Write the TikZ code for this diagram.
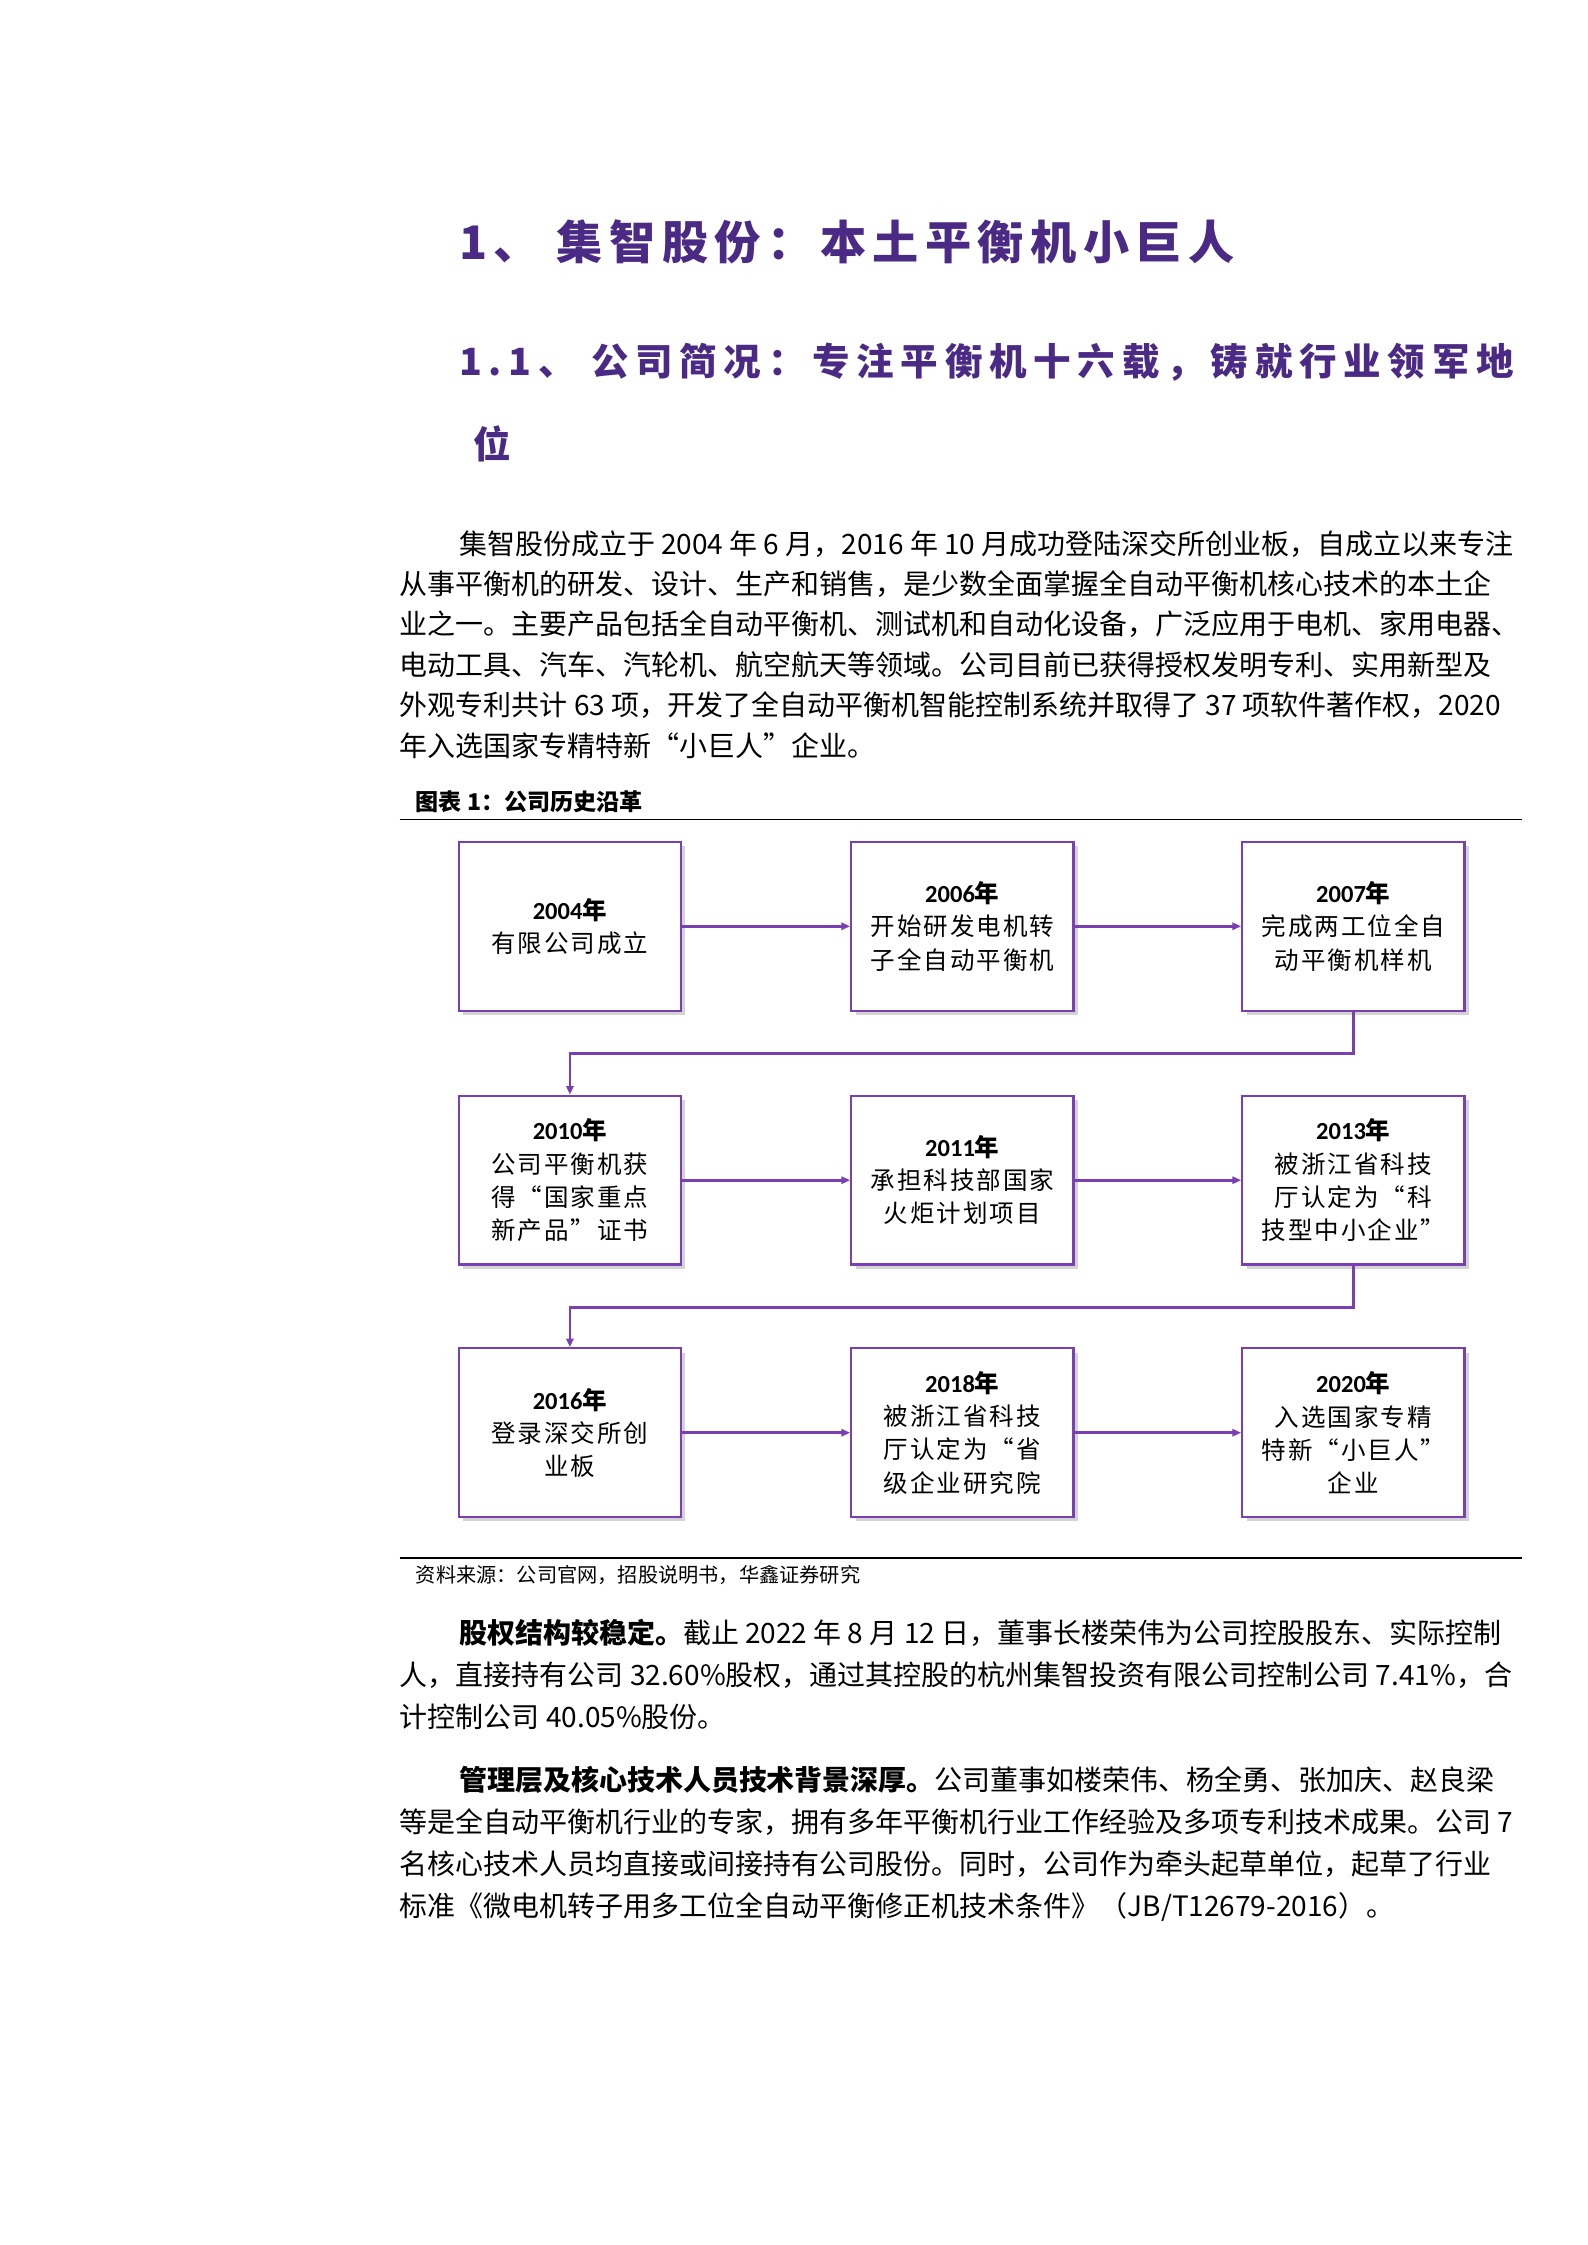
\documentclass[tikz,border=0pt]{standalone}
\usepackage{fontspec}
\setmainfont{Noto Sans CJK SC}
\newfontfamily\yr{Carlito}
\usetikzlibrary{shadows,arrows.meta}
\definecolor{ttl}{HTML}{4B2A85}
\definecolor{bx}{HTML}{7A3FB2}
\newcommand{\Y}[1]{{\bfseries{\yr #1}年}}
\begin{document}
\begin{tikzpicture}[x=1pt,y=-1pt,
 ev/.style={draw=bx,line width=1.6pt,fill=white,minimum width=154pt,minimum height=117pt,inner sep=2pt,align=center,font=\fontsize{17}{23}\selectfont\addfontfeature{LetterSpace=8},drop shadow={shadow xshift=3pt,shadow yshift=-3pt,opacity=0.35}},
 con/.style={draw=bx,line width=1.8pt,-{Triangle[length=6pt,width=5pt]}},
 bl/.style={anchor=base west,inner sep=0pt,font=\fontsize{19.4}{22}\selectfont}]
\useasboundingbox (0,0) rectangle (1100,1556);
\node[anchor=base west,inner sep=0pt,text=ttl,font=\fontsize{32}{36}\bfseries\addfontfeature{LetterSpace=14}] (t1) at (318,180) {1、\ 集智股份：本土平衡机小巨人};
\node[anchor=base west,inner sep=0pt,text=ttl,font=\fontsize{26}{30}\bfseries\addfontfeature{LetterSpace=18}] (t2) at (318,260) {1.1、\ 公司简况：专注平衡机十六载，铸就行业领军地};
\node[anchor=base west,inner sep=0pt,text=ttl,font=\fontsize{26}{30}\bfseries] (t3) at (328,318) {位};
\node[bl] (p1) at (318,384) {集智股份成立于 2004 年 6 月，2016 年 10 月成功登陆深交所创业板，自成立以来专注};
\node[bl] (p2) at (277,412) {从事平衡机的研发、设计、生产和销售，是少数全面掌握全自动平衡机核心技术的本土企};
\node[bl] (p3) at (277,440) {业之一。主要产品包括全自动平衡机、测试机和自动化设备，广泛应用于电机、家用电器、};
\node[bl] (p4) at (277,468) {电动工具、汽车、汽轮机、航空航天等领域。公司目前已获得授权发明专利、实用新型及};
\node[bl] (p5) at (277,496) {外观专利共计 63 项，开发了全自动平衡机智能控制系统并取得了 37 项软件著作权，2020};
\node[bl] (p6) at (277,524) {年入选国家专精特新“小巨人”企业。};
\node[anchor=base west,inner sep=0pt,font=\fontsize{16}{18}\bfseries] (cap) at (288,562) {图表 1：公司历史沿革};
\coordinate (r1a) at (277,568); \coordinate (r1b) at (1055,568);
\draw[line width=1.2pt] (r1a) -- (r1b);
\node[ev] (b1) at (395,642) {\Y{2004}\\有限公司成立};
\node[ev] (b2) at (667,642) {\Y{2006}\\开始研发电机转\\子全自动平衡机};
\node[ev] (b3) at (938,642) {\Y{2007}\\完成两工位全自\\动平衡机样机};
\node[ev] (b4) at (395,818) {\Y{2010}\\公司平衡机获\\得“国家重点\\新产品”证书};
\node[ev] (b5) at (667,818) {\Y{2011}\\承担科技部国家\\火炬计划项目};
\node[ev] (b6) at (938,818) {\Y{2013}\\被浙江省科技\\厅认定为“科\\技型中小企业”};
\node[ev] (b7) at (395,993) {\Y{2016}\\登录深交所创\\业板};
\node[ev] (b8) at (667,993) {\Y{2018}\\被浙江省科技\\厅认定为“省\\级企业研究院};
\node[ev] (b9) at (938,993) {\Y{2020}\\入选国家专精\\特新“小巨人”\\企业};
\draw[con] (b1) -- (b2); \draw[con] (b2) -- (b3);
\draw[con] (b4) -- (b5); \draw[con] (b5) -- (b6);
\draw[con] (b7) -- (b8); \draw[con] (b8) -- (b9);
\draw[con] (b3.south) -- ++(0,29) -| (b4.north);
\draw[con] (b6.south) -- ++(0,29) -| (b7.north);
\coordinate (r2a) at (277,1080); \coordinate (r2b) at (1055,1080);
\draw[line width=1.2pt] (r2a) -- (r2b);
\node[anchor=base west,inner sep=0pt,font=\fontsize{14}{16}\selectfont] (src) at (288,1097) {资料来源：公司官网，招股说明书，华鑫证券研究};
\node[bl] (q1) at (318,1139) {{\bfseries 股权结构较稳定。}截止 2022 年 8 月 12 日，董事长楼荣伟为公司控股股东、实际控制};
\node[bl] (q2) at (277,1168) {人，直接持有公司 32.60\%股权，通过其控股的杭州集智投资有限公司控制公司 7.41\%，合};
\node[bl] (q3) at (277,1197) {计控制公司 40.05\%股份。};
\node[bl] (s1) at (318,1241) {{\bfseries 管理层及核心技术人员技术背景深厚。}公司董事如楼荣伟、杨全勇、张加庆、赵良梁};
\node[bl] (s2) at (277,1270) {等是全自动平衡机行业的专家，拥有多年平衡机行业工作经验及多项专利技术成果。公司 7};
\node[bl] (s3) at (277,1299) {名核心技术人员均直接或间接持有公司股份。同时，公司作为牵头起草单位，起草了行业};
\node[bl] (s4) at (277,1328) {标准《微电机转子用多工位全自动平衡修正机技术条件》（JB/T12679-2016）。};
\end{tikzpicture}
\end{document}
